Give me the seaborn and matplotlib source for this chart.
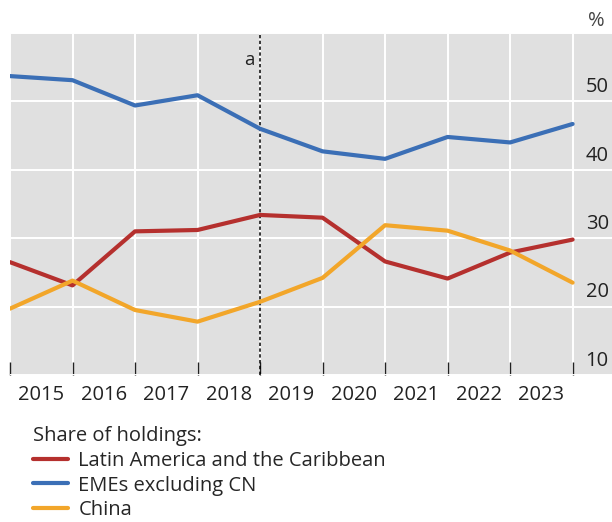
import numpy as np
import pandas as pd
import matplotlib
matplotlib.use('Agg')
import matplotlib.pyplot as plt
import matplotlib.transforms as mtransforms
import seaborn as sns

# year-end observations, 2014 .. 2023
periods = list(range(10))
years = ['2015', '2016', '2017', '2018', '2019', '2020', '2021', '2022', '2023']
latam = [26.5, 23.1, 31.0, 31.2, 33.4, 33.0, 26.6, 24.1, 27.9, 29.8]
emes_ex_cn = [53.7, 53.1, 49.4, 50.9, 46.0, 42.7, 41.6, 44.8, 44.0, 46.7]
china = [19.7, 23.8, 19.5, 17.8, 20.7, 24.2, 31.9, 31.1, 28.2, 23.5]
series_names = ['Latin America and the Caribbean', 'EMEs excluding CN', 'China']
series_colors = ['#b5302e', '#3b6fb6', '#f2a62a']
yticks = [10, 20, 30, 40, 50]
marker_period = 4

df = pd.DataFrame({'period': periods * 3,
                   'value': latam + emes_ex_cn + china,
                   'series': [series_names[0]] * 10 + [series_names[1]] * 10 + [series_names[2]] * 10})

sns.set_theme(style='white')
plt.rcParams['font.family'] = ['Open Sans', 'DejaVu Sans']
fs = 14.5

fig = plt.figure(figsize=(6.12, 5.22), dpi=100)
ax = fig.add_axes([10 / 612, 1 - 375 / 522, 602 / 612, 342 / 522])
ax.set_facecolor('#e0e0e0')

sns.lineplot(data=df, x='period', y='value', hue='series', hue_order=series_names,
             palette=series_colors, linewidth=3, ax=ax, legend=True)

ax.axvline(marker_period, color='black', linestyle=(0, (2.2, 1.6)), linewidth=1.1, zorder=1)
ax.annotate('a', xy=(marker_period, 56), xytext=(-4, 0), textcoords='offset points',
            ha='right', va='center', fontsize=13.5, color='#222222')

ax.set_xlim(0, 9.63)
ax.set_ylim(10, 60)
ax.set_xticks(periods)
ax.set_xticklabels([])
ax.set_xticks([p + 0.5 for p in periods[:-1]], minor=True)
ax.set_xticklabels(years, minor=True, fontsize=fs, color='#222222')
ax.tick_params(axis='x', which='major', direction='in', length=9.5, width=1, color='#222222', bottom=True)
ax.tick_params(axis='x', which='minor', length=0, pad=7)

ax.set_yticks(yticks + [60])
ax.yaxis.tick_right()
ax.set_yticklabels([str(v) for v in yticks] + [''], fontsize=fs, color='#222222')
ax.tick_params(axis='y', length=0, pad=-19)
shift = mtransforms.ScaledTranslation(0, 3 / 72, fig.dpi_scale_trans)
for lab in ax.get_yticklabels():
    lab.set_va('bottom')
    lab.set_transform(lab.get_transform() + shift)

ax.grid(True, which='major', color='white', linewidth=1.4)
ax.set_axisbelow(True)
for s in ax.spines.values():
    s.set_visible(False)
ax.set_xlabel('')
ax.set_ylabel('')

fig.text(0.988, 1 - 21 / 522, '%', ha='right', va='center', fontsize=fs, color='#444444')

handles, labels = ax.get_legend_handles_labels()
leg = ax.legend(handles, labels, title='Share of holdings:', loc='upper left',
                bbox_to_anchor=(17 / 602, -0.131), frameon=False, fontsize=fs,
                title_fontsize=fs, handlelength=1.75, handletextpad=0.5,
                labelspacing=0.24, borderaxespad=0, borderpad=0.3, alignment='left')
for h in leg.get_lines():
    h.set_linewidth(3)

fig.savefig('out.png', dpi=100)
